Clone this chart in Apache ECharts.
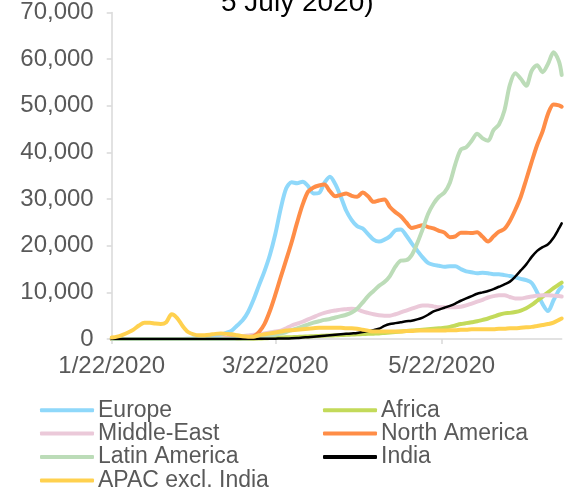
<!DOCTYPE html>
<html>
<head>
<meta charset="utf-8">
<script src="https://cdn.jsdelivr.net/npm/echarts@6/dist/echarts.min.js"></script>
<style>
html,body{margin:0;padding:0;background:#fff;}
#c{width:578px;height:490px;}
</style>
</head>
<body>
<div id="c"></div>
<script>
const dates = [
'2020-01-22','2020-01-24','2020-01-26','2020-01-28','2020-01-30','2020-02-01','2020-02-03','2020-02-05','2020-02-07','2020-02-09',
'2020-02-11','2020-02-13','2020-02-15','2020-02-17','2020-02-19','2020-02-21','2020-02-23','2020-02-25','2020-02-27','2020-02-29',
'2020-03-02','2020-03-04','2020-03-06','2020-03-08','2020-03-10','2020-03-12','2020-03-14','2020-03-16','2020-03-18','2020-03-20',
'2020-03-22','2020-03-24','2020-03-26','2020-03-28','2020-03-30','2020-04-01','2020-04-03','2020-04-05','2020-04-07','2020-04-09',
'2020-04-11','2020-04-13','2020-04-15','2020-04-17','2020-04-19','2020-04-21','2020-04-23','2020-04-25','2020-04-27','2020-04-29',
'2020-05-01','2020-05-03','2020-05-05','2020-05-07','2020-05-09','2020-05-11','2020-05-13','2020-05-15','2020-05-17','2020-05-19',
'2020-05-21','2020-05-23','2020-05-25','2020-05-27','2020-05-29','2020-05-31','2020-06-02','2020-06-04','2020-06-06','2020-06-08',
'2020-06-10','2020-06-12','2020-06-14','2020-06-16','2020-06-18','2020-06-20','2020-06-22','2020-06-24','2020-06-26','2020-06-28',
'2020-06-30','2020-07-02','2020-07-04','2020-07-05'
];

const europe = [
0,0,0,0,2,5,5,5,5,5,
5,5,5,10,40,100,200,350,500,700,
900,1300,1800,2900,4000,5800,8400,11500,14500,18000,
22500,28000,32300,33600,33400,33700,32800,31200,31300,33500,
34800,33200,30500,27500,25500,24200,23700,22500,21300,20900,
21300,22000,23300,23500,22200,20500,19000,17500,16300,15900,
15700,15500,15600,15600,15000,14500,14300,14100,14200,14100,
13900,13900,13700,13500,13200,12900,12600,12000,10000,7500,
6000,8300,10500,11200
];

const africa = [
0,0,0,0,0,0,0,0,0,0,
0,0,0,0,0,0,0,0,0,0,
0,0,10,20,30,50,70,100,150,200,
250,300,350,400,450,500,550,600,650,700,
750,800,850,900,950,1000,1050,1100,1150,1200,
1300,1400,1500,1600,1700,1800,1900,2000,2100,2200,
2300,2400,2600,2900,3200,3400,3600,3800,4100,4400,
4800,5200,5500,5600,5800,6100,6600,7300,8200,9100,
10000,10900,11700,12100
];

const middleEast = [
0,0,0,0,0,0,0,0,0,0,
0,0,0,0,0,0,0,0,20,50,
100,200,300,450,600,750,900,1000,1200,1400,
1600,1800,2300,2900,3300,3700,4200,4700,5200,5600,
5900,6100,6300,6400,6500,6400,5900,5600,5300,5100,
5000,5000,5300,5700,6100,6500,6900,7200,7200,7000,
6800,6800,6800,6800,6900,7200,7600,8000,8400,8900,
9200,9400,9400,9000,8700,8700,8900,9100,9300,9400,
9400,9300,9200,9100
];

const northAmerica = [
0,0,0,0,0,0,0,0,0,0,
0,0,0,0,0,0,0,0,0,0,
20,50,100,150,250,400,600,1500,3200,6000,
9500,13300,17000,20800,25000,28800,31600,32500,32900,33100,
31700,30600,30900,31200,30700,30500,31400,30600,29400,29700,
29900,28300,27200,26300,25000,23800,24100,24400,24000,23700,
23200,22800,21800,22000,22800,22800,22700,22900,21900,20900,
22000,23000,23600,25300,27700,30500,34200,38000,41600,44500,
48300,50300,50100,49800
];

const latinAmerica = [
0,0,0,0,0,0,0,0,0,0,
0,0,0,0,0,0,0,0,0,0,
0,0,10,30,50,100,200,350,500,700,
900,1200,1500,1900,2300,2700,3100,3500,3800,4100,
4300,4600,4900,5200,5700,6500,7800,9200,10300,11400,
12200,13500,15500,16800,16900,18000,20500,23500,26800,29000,
30500,31400,33500,37500,40600,41100,42500,44000,43000,42500,
44800,46000,49000,54500,57000,55800,54300,57500,58700,57200,
59000,61500,59500,56600
];

const india = [
0,0,0,0,0,0,0,0,0,0,
0,0,0,0,0,0,0,0,0,0,
0,0,0,0,0,10,20,30,40,60,
80,100,120,150,200,300,400,500,600,700,
800,900,1000,1100,1200,1300,1500,1700,1900,2200,
2800,3200,3400,3600,3800,3900,4200,4600,5200,5900,
6300,6700,7100,7600,8200,8700,9200,9700,10000,10300,
10700,11200,11700,12300,13400,14700,16000,17600,18900,19700,
20300,21700,23700,24800
];

const apac = [
300,500,900,1400,2000,2900,3500,3500,3300,3200,
3600,5300,4500,2800,1500,1000,800,800,900,1100,
1200,1100,1000,800,600,500,500,800,1000,1200,
1400,1600,1800,1900,2000,2100,2200,2300,2400,2400,
2400,2400,2400,2300,2300,2200,2000,1800,1600,1600,
1600,1600,1600,1600,1700,1700,1800,1800,1800,1800,
1800,1800,1900,1900,2000,2000,2100,2100,2100,2100,
2100,2200,2200,2300,2300,2400,2500,2600,2800,3000,
3200,3500,4100,4400
];

const seriesNames = ['Europe','Africa','Middle-East','North America','Latin America','India','APAC excl. India'];
const seriesColors = ['#8fd8fa','#c3da5a','#ebc9d9','#ff8d47','#bcdcb8','#000000','#ffd14f'];
const seriesValues = [europe, africa, middleEast, northAmerica, latinAmerica, india, apac];
const yTickValues = [0,10000,20000,30000,40000,50000,60000,70000];
const xTickLabels = ['1/22/2020','3/22/2020','5/22/2020'];
const legendLeft = ['Europe','Middle-East','Latin America','APAC excl. India'];
const legendRight = ['Africa','North America','India'];
const titleText = '5 July 2020)';

const DAY = 86400000;
function isoToUTC(s){ const p = s.split('-'); return Date.UTC(+p[0], +p[1]-1, +p[2]); }
function mdyToUTC(s){ const p = s.split('/'); return Date.UTC(+p[2], +p[0]-1, +p[1]); }
const t0 = isoToUTC(dates[0]);
const dayOf = dates.map(d => Math.round((isoToUTC(d) - t0) / DAY));
const xTickValues = xTickLabels.map(s => Math.round((mdyToUTC(s) - t0) / DAY));

const FONT = '"Liberation Sans", Arial, sans-serif';
const chart = echarts.init(document.getElementById('c'), null, {renderer:'canvas'});

const series = seriesNames.map((name, k) => ({
  name: name,
  type: 'line',
  smooth: 0.3,
  symbol: 'none',
  showSymbol: false,
  color: seriesColors[k],
  itemStyle: {color: seriesColors[k]},
  lineStyle: {color: seriesColors[k], width: name === 'India' ? 2.5 : 4, cap: 'round', join: 'round'},
  emphasis: {disabled: true},
  data: dayOf.map((d, i) => [d, seriesValues[k][i]])
}));

function legendItems(names) {
  return names.map(n => ({name: n, icon: 'roundRect'}));
}

const legendCommon = {
  orient: 'vertical',
  itemWidth: 54,
  itemHeight: 4,
  itemGap: 0,
  height: 110,
  selectedMode: false,
  padding: 0,
  textStyle: {color: '#595959', fontSize: 23, fontFamily: FONT, lineHeight: 23.4, padding: [0, 0, 0, -1]}
};

chart.setOption({
  animation: false,
  backgroundColor: '#ffffff',
  textStyle: {fontFamily: FONT},
  title: {
    text: titleText,
    left: 216,
    top: -16,
    padding: 5,
    textStyle: {color: '#000000', fontSize: 28, fontWeight: 'normal', fontFamily: FONT}
  },
  legend: [
    Object.assign({}, legendCommon, {data: legendItems(legendLeft), left: 40, top: 398.5}),
    Object.assign({}, legendCommon, {data: legendItems(legendRight), left: 323, top: 398.5})
  ],
  grid: {left: 111.7, right: 16.3, top: 12.5, bottom: 151, containLabel: false},
  xAxis: {
    type: 'value',
    min: dayOf[0],
    max: dayOf[dayOf.length - 1],
    axisLine: {show: true, lineStyle: {color: '#d9d9d9', width: 1.5}},
    axisTick: {show: true, length: 5, customValues: xTickValues, lineStyle: {color: '#d9d9d9', width: 1.5}},
    axisLabel: {
      customValues: xTickValues,
      margin: 15,
      color: '#595959',
      fontSize: 24,
      fontFamily: FONT,
      formatter: function (v) {
        const i = xTickValues.indexOf(v);
        return i >= 0 ? xTickLabels[i] : '';
      }
    },
    splitLine: {show: false},
    minorTick: {show: false}
  },
  yAxis: {
    type: 'value',
    min: yTickValues[0],
    max: yTickValues[yTickValues.length - 1],
    interval: yTickValues[1] - yTickValues[0],
    axisLine: {show: true, lineStyle: {color: '#d9d9d9', width: 1.5}},
    axisTick: {show: true, length: 5, lineStyle: {color: '#d9d9d9', width: 1.5}},
    axisLabel: {
      margin: 18,
      color: '#595959',
      fontSize: 24,
      fontFamily: FONT,
      formatter: function (v) { return v.toLocaleString('en-US'); }
    },
    splitLine: {show: false}
  },
  series: series
});
</script>
</body>
</html>
